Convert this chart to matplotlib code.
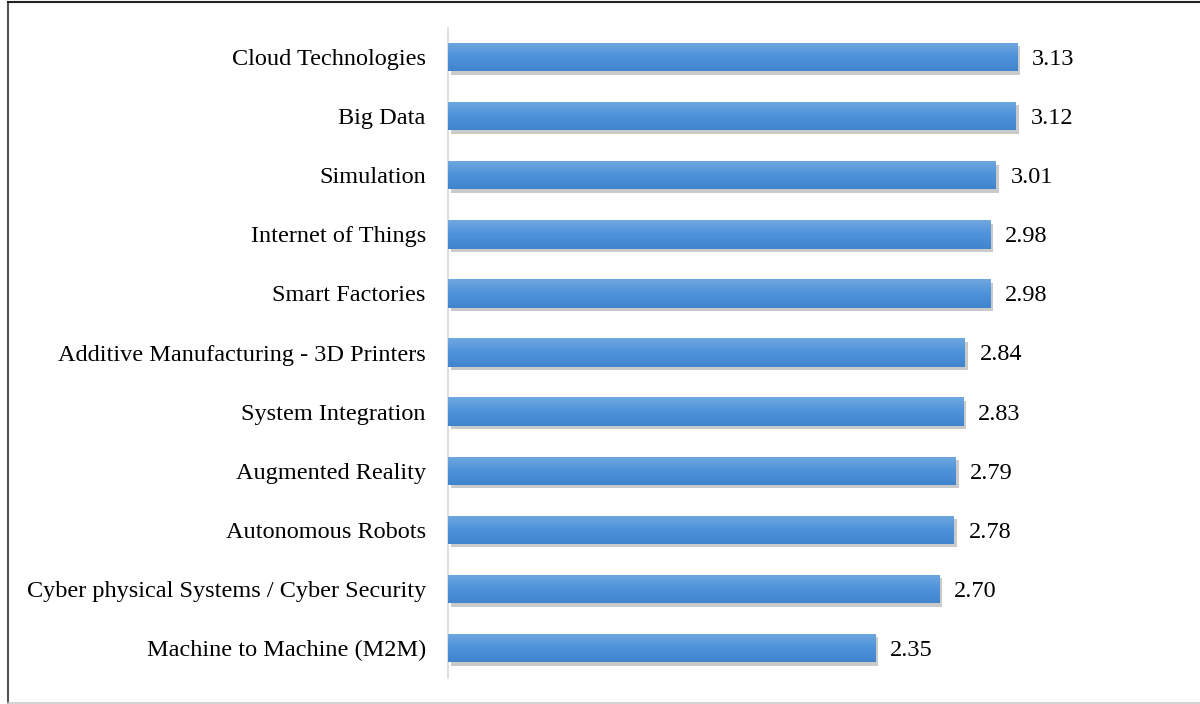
import numpy as np
import matplotlib.pyplot as plt
import matplotlib.patheffects as pe
from matplotlib.colors import LinearSegmentedColormap

# data, top to bottom as in the chart
labels = ["Cloud Technologies", "Big Data", "Simulation", "Internet of Things",
          "Smart Factories", "Additive Manufacturing - 3D Printers",
          "System Integration", "Augmented Reality", "Autonomous Robots",
          "Cyber physical Systems / Cyber Security", "Machine to Machine (M2M)"]
values = [3.13, 3.12, 3.01, 2.98, 2.98, 2.84, 2.83, 2.79, 2.78, 2.70, 2.35]

plt.rcParams['font.family'] = ['Liberation Serif', 'DejaVu Serif']

fig = plt.figure(figsize=(12, 7.04), dpi=100)
# axes placed so that x=0 sits at pixel 448 and bars line up with the reference
ax = fig.add_axes([448/1200, 1 - 677.5/704, (1085 - 448)/1200, 650/704])

y = np.arange(len(labels))[::-1]
bars = ax.barh(y, values, height=0.48, color='#4a8fd6', zorder=2,
               path_effects=[pe.SimplePatchShadow(offset=(2, -2.5), shadow_rgbFace='#8a8a8a', alpha=0.45), pe.Normal()])

# vertical gradient inside each bar
cmap = LinearSegmentedColormap.from_list('bar', ['#70a8e0', '#4d92da', '#4084cc'])
grad = np.linspace(0, 1, 64).reshape(-1, 1)
for b in bars:
    x0, y0 = b.get_x(), b.get_y()
    w, h = b.get_width(), b.get_height()
    im = ax.imshow(grad, aspect='auto', cmap=cmap, extent=(x0, x0 + w, y0, y0 + h),
                   origin='upper', zorder=3)
    im.set_clip_path(b)

for yi, v in zip(y, values):
    ax.text(v + 0.08, yi, f"{v:.2f}", va='center_baseline', ha='left', fontsize=17.5, color='black')

ax.set_xlim(0, 3.5)
ax.set_ylim(-0.5, len(labels) - 0.5)
ax.set_yticks(y)
ax.set_yticklabels(labels, fontsize=17.5)
ax.tick_params(axis='y', length=0, pad=16)
ax.set_xticks([])
for s in ['top', 'right', 'bottom']:
    ax.spines[s].set_visible(False)
ax.spines['left'].set_color('#d9d9d9')
ax.spines['left'].set_linewidth(1.2)

# outer frame of the picture
fig.add_artist(plt.Line2D([8/1200, 8/1200], [0, 1 - 2/704], color='#555555', lw=1.5))
fig.add_artist(plt.Line2D([8/1200, 1], [1 - 2/704, 1 - 2/704], color='#222222', lw=1.5))
fig.add_artist(plt.Line2D([8/1200, 1], [1/704, 1/704], color='#cccccc', lw=1.2))

fig.savefig('out.png', dpi=100)
